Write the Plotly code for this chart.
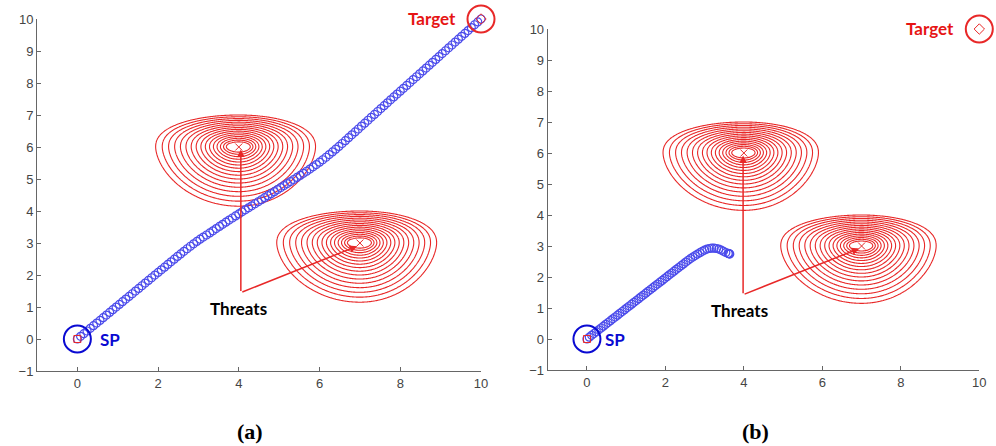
import numpy as np
import plotly.graph_objects as go

# ---------------- data ----------------
threat_x = [4.0, 7.0]
threat_y = [6.0, 3.0]

start_pt = [0.0, 0.0]
target_pt = [10.0, 10.0]

# path (a): waypoints
path_a_x = [0.00, 0.08, 0.16, 0.24, 0.32, 0.40, 0.48, 0.56, 0.64, 0.72, 0.80, 0.88, 0.96,
            1.04, 1.12, 1.20, 1.28, 1.36, 1.44, 1.52, 1.60, 1.68, 1.76, 1.84, 1.92, 2.00,
            2.08, 2.16, 2.24, 2.32, 2.40, 2.48, 2.56, 2.64, 2.72, 2.80, 2.88, 2.96,
            3.04, 3.12, 3.20, 3.28, 3.36, 3.44, 3.52, 3.60, 3.68, 3.76, 3.84, 3.92, 4.00,
            4.08, 4.16, 4.24, 4.32, 4.40, 4.48, 4.56, 4.64, 4.72, 4.80, 4.88, 4.96,
            5.04, 5.12, 5.20, 5.28, 5.36, 5.44, 5.52, 5.60, 5.68, 5.76, 5.84, 5.92, 6.00,
            6.08, 6.16, 6.24, 6.32, 6.40, 6.48, 6.56, 6.64, 6.72, 6.80, 6.88, 6.96,
            7.04, 7.12, 7.20, 7.28, 7.36, 7.44, 7.52, 7.60, 7.68, 7.76, 7.84, 7.92, 8.00,
            8.08, 8.16, 8.24, 8.32, 8.40, 8.48, 8.56, 8.64, 8.72, 8.80, 8.88, 8.96,
            9.04, 9.12, 9.20, 9.28, 9.36, 9.44, 9.52, 9.60, 9.68, 9.76, 9.84, 9.92, 10.00]
path_a_y = [0.000, 0.083, 0.166, 0.250, 0.333, 0.416, 0.499, 0.582, 0.666, 0.749, 0.832, 0.915, 0.998,
            1.082, 1.165, 1.248, 1.331, 1.414, 1.498, 1.581, 1.664, 1.747, 1.830, 1.914, 1.997, 2.080,
            2.163, 2.246, 2.330, 2.413, 2.496, 2.579, 2.660, 2.740, 2.820, 2.898, 2.974, 3.048,
            3.118, 3.185, 3.250, 3.316, 3.382, 3.450, 3.517, 3.584, 3.650, 3.716, 3.781, 3.846, 3.910,
            3.973, 4.036, 4.100, 4.163, 4.226, 4.289, 4.352, 4.416, 4.479, 4.542, 4.605, 4.668,
            4.732, 4.795, 4.858, 4.921, 4.984, 5.048, 5.111, 5.176, 5.242, 5.310, 5.380, 5.452, 5.526,
            5.602, 5.680, 5.762, 5.846, 5.932, 6.019, 6.109, 6.199, 6.290, 6.381, 6.472, 6.563,
            6.654, 6.745, 6.836, 6.927, 7.018, 7.109, 7.200, 7.291, 7.382, 7.473, 7.564, 7.655, 7.745,
            7.835, 7.925, 8.016, 8.106, 8.196, 8.286, 8.376, 8.467, 8.557, 8.647, 8.737, 8.827,
            8.918, 9.008, 9.098, 9.188, 9.278, 9.369, 9.459, 9.549, 9.639, 9.729, 9.820, 9.910, 10.000]

# path (b): waypoints
path_b_x = [0.00, 0.06, 0.12, 0.18, 0.24, 0.30, 0.36, 0.42, 0.48, 0.54, 0.60, 0.66, 0.72, 0.78,
            0.84, 0.90, 0.96, 1.02, 1.08, 1.14, 1.20, 1.26, 1.32, 1.38, 1.44, 1.50, 1.56, 1.62,
            1.68, 1.74, 1.80, 1.86, 1.92, 1.98, 2.04, 2.10, 2.16, 2.22, 2.28, 2.34, 2.40, 2.46,
            2.52, 2.58, 2.64, 2.70, 2.76, 2.82, 2.88, 2.94, 3.00, 3.06, 3.12, 3.18, 3.24, 3.30,
            3.36, 3.42, 3.48, 3.54, 3.60, 3.62, 3.63, 3.64]
path_b_y = [0.000, 0.059, 0.118, 0.177, 0.236, 0.296, 0.355, 0.414, 0.473, 0.532, 0.591, 0.650,
            0.709, 0.768, 0.827, 0.887, 0.946, 1.005, 1.064, 1.123, 1.182, 1.241, 1.300, 1.359,
            1.418, 1.478, 1.537, 1.596, 1.655, 1.714, 1.773, 1.832, 1.891, 1.950, 2.009, 2.069,
            2.128, 2.187, 2.246, 2.305, 2.364, 2.423, 2.482, 2.540, 2.595, 2.645, 2.690, 2.740,
            2.785, 2.830, 2.870, 2.900, 2.920, 2.930, 2.930, 2.920, 2.900, 2.870, 2.830, 2.790,
            2.760, 2.750, 2.750, 2.740]

x_ticks = [0, 2, 4, 6, 8, 10]
y_ticks = [-1, 0, 1, 2, 3, 4, 5, 6, 7, 8, 9, 10]
captions = ["(a)", "(b)"]

# ---------------- threat field (contour levels 1/16 .. 1) ----------------
N_LEVELS = 16


def half_width(s):
    return 0.2385 + 0.933 * s + 0.829 * s ** 2


def top_ext(s):
    return 0.104 + 0.896 * s


def bot_ext(s):
    return 0.099 + 0.927 * s + 0.824 * s ** 2


gx = np.linspace(-1, 10, 441)
gy = np.linspace(-1, 10, 441)
GX, GY = np.meshgrid(gx, gy)
field = np.full(GX.shape, 5.0)
for cx, cy in zip(threat_x, threat_y):
    u = GX - cx
    v = GY - cy
    au = np.abs(u) / np.where(u < 0, 1.03, 0.95)
    av = np.abs(v)
    q = np.where(v > 0, 2.3, 1.7)
    lo = np.zeros_like(GX)
    hi = np.full(GX.shape, 3.0)
    for _ in range(40):
        mid = 0.5 * (lo + hi)
        H = np.where(v > 0, top_ext(mid), bot_ext(mid))
        g = (au / half_width(mid)) ** 2 + (av / H) ** q
        inside = g <= 1
        hi = np.where(inside, mid, hi)
        lo = np.where(inside, lo, mid)
    field = np.minimum(field, 0.5 * (lo + hi))

RED = "rgb(232,40,40)"
BLUE_PATH = "rgb(75,75,235)"
BLUE = "rgb(10,10,210)"

fig = go.Figure()

panels = [("x", "y", path_a_x, path_a_y), ("x2", "y2", path_b_x, path_b_y)]
for xa, ya, px, py in panels:
    fig.add_trace(go.Contour(
        x=gx, y=gy, z=field, xaxis=xa, yaxis=ya,
        contours=dict(coloring="lines", start=1 / N_LEVELS, end=1.0001, size=1 / N_LEVELS),
        colorscale=[[0, RED], [1, RED]], showscale=False,
        line=dict(width=1.1, smoothing=1), hoverinfo="skip"))
    # threat centres
    fig.add_trace(go.Scatter(
        x=threat_x, y=threat_y, xaxis=xa, yaxis=ya, mode="markers",
        marker=dict(symbol="x-thin-open", size=7, color=RED, line=dict(color=RED, width=1)),
        hoverinfo="skip"))
    # path
    fig.add_trace(go.Scatter(
        x=px, y=py, xaxis=xa, yaxis=ya, mode="markers", cliponaxis=False,
        marker=dict(symbol="circle-open", size=8, color=BLUE_PATH,
                    line=dict(color=BLUE_PATH, width=1.2)),
        hoverinfo="skip"))
    # start point
    fig.add_trace(go.Scatter(
        x=[start_pt[0]], y=[start_pt[1]], xaxis=xa, yaxis=ya, mode="markers", cliponaxis=False,
        marker=dict(symbol="square-open", size=7, color=RED, line=dict(color=RED, width=1)),
        hoverinfo="skip"))
    fig.add_trace(go.Scatter(
        x=[start_pt[0]], y=[start_pt[1]], xaxis=xa, yaxis=ya, mode="markers", cliponaxis=False,
        marker=dict(symbol="circle-open", size=27, color=BLUE, line=dict(color=BLUE, width=2)),
        hoverinfo="skip"))
    # target
    fig.add_trace(go.Scatter(
        x=[target_pt[0]], y=[target_pt[1]], xaxis=xa, yaxis=ya, mode="markers", cliponaxis=False,
        marker=dict(symbol="diamond-open", size=8, color=RED, line=dict(color=RED, width=1)),
        hoverinfo="skip"))
    fig.add_trace(go.Scatter(
        x=[target_pt[0]], y=[target_pt[1]], xaxis=xa, yaxis=ya, mode="markers", cliponaxis=False,
        marker=dict(symbol="circle-open", size=27, color=RED, line=dict(color=RED, width=2)),
        hoverinfo="skip"))

axis_common = dict(range=[-1, 10], showgrid=False, zeroline=False, showline=True,
                   linecolor="#666", linewidth=1, ticks="inside", ticklen=4,
                   tickcolor="#666", tickfont=dict(family="Liberation Sans", size=13, color="#444"),
                   mirror=False, automargin=False)

fig.update_layout(
    width=996, height=446, margin=dict(l=0, r=0, t=0, b=0, pad=0), autosize=False,
    paper_bgcolor="white", plot_bgcolor="white", showlegend=False,
    xaxis=dict(domain=[37 / 996, 481 / 996], anchor="y", tickvals=x_ticks, **axis_common),
    yaxis=dict(domain=[1 - 371 / 446, 1 - 19 / 446], anchor="x", tickvals=y_ticks, **axis_common),
    xaxis2=dict(domain=[547.7 / 996, 979.3 / 996], anchor="y2", tickvals=x_ticks, **axis_common),
    yaxis2=dict(domain=[1 - 370 / 446, 1 - 29 / 446], anchor="x2", tickvals=y_ticks, **axis_common),
)

label_font = "Lato"
ann = []
for xa, ya, tail, vtip, dtip, thr, sp_x, tg_x in [
        ("x", "y", (4.05, 1.45), (4.05, 5.92), (6.93, 2.9), (3.99, 0.94), 0.5, 9.43),
        ("x2", "y2", (3.98, 1.43), (3.98, 5.92), (6.94, 2.92), (3.9, 0.93), 0.42, 9.41)]:
    for tip in (vtip, dtip):
        ann.append(dict(x=tip[0], y=tip[1], ax=tail[0], ay=tail[1], xref=xa, yref=ya,
                        axref=xa, ayref=ya, showarrow=True, arrowhead=2, arrowsize=1,
                        arrowwidth=1.5, arrowcolor=RED, standoff=0, startstandoff=0, text=""))
    ann.append(dict(x=thr[0], y=thr[1], xref=xa, yref=ya, text="<b>Threats</b>", showarrow=False,
                    font=dict(family=label_font, size=17, color="black")))
    ann.append(dict(x=sp_x, y=0, xref=xa, yref=ya, text="<b>SP</b>", showarrow=False,
                    xanchor="left", font=dict(family=label_font, size=17, color=BLUE)))
    ann.append(dict(x=tg_x, y=9.99, xref=xa, yref=ya, text="<b>Target</b>", showarrow=False,
                    xanchor="right", yanchor="middle", yshift=1,
                    font=dict(family=label_font, size=17, color="rgb(230,20,20)")))

for cx_px, cap in zip([250, 755], captions):
    ann.append(dict(x=cx_px / 996, y=(446 - 431) / 446, xref="paper", yref="paper",
                    text="<b>" + cap + "</b>", showarrow=False, xanchor="center", yanchor="middle",
                    font=dict(family="Liberation Serif", size=22, color="black")))

fig.update_layout(annotations=ann)
fig.write_html("out.html", config={"displayModeBar": False},
               post_script="document.body.style.margin='0px';document.body.style.overflow='hidden';")
